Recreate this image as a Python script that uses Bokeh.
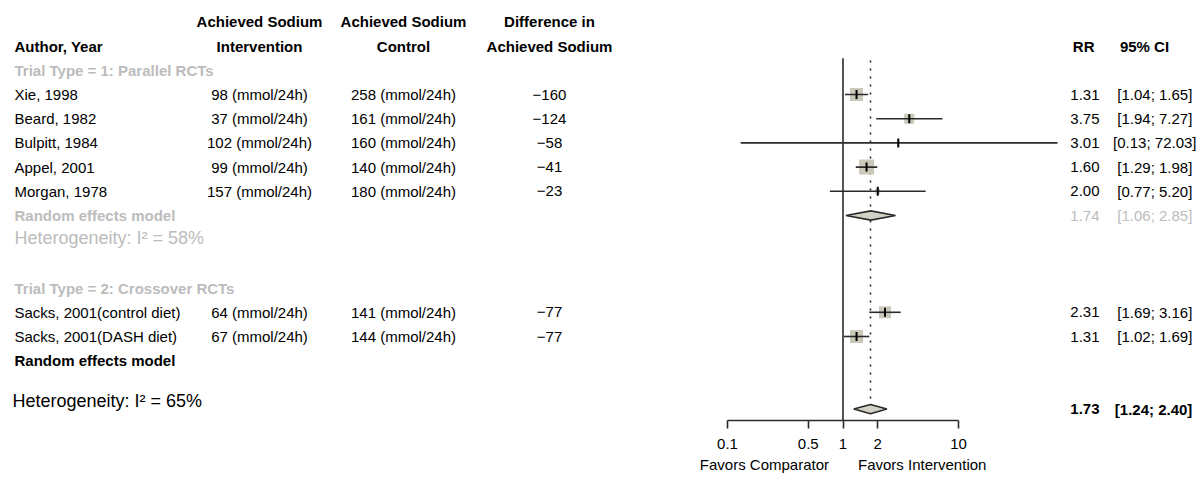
import math
from bokeh.plotting import figure
from bokeh.models import Range1d, FixedTicker, LogAxis, LogScale
from bokeh.core.properties import value
from bokeh.embed import file_html
from bokeh.resources import INLINE

# ---------------- data ----------------
studies = ["Xie, 1998", "Beard, 1982", "Bulpitt, 1984", "Appel, 2001", "Morgan, 1978",
           "Sacks, 2001(control diet)", "Sacks, 2001(DASH diet)"]
sodium_intervention = [98, 37, 102, 99, 157, 64, 67]
sodium_control = [258, 161, 160, 140, 180, 141, 144]
sodium_difference = [-160, -124, -58, -41, -23, -77, -77]
rr = [1.31, 3.75, 3.01, 1.60, 2.00, 2.31, 1.31]
ci_low = [1.04, 1.94, 0.13, 1.29, 0.77, 1.69, 1.02]
ci_high = [1.65, 7.27, 72.03, 1.98, 5.20, 3.16, 1.69]
weights = [20.2, 12.0, 0.5, 26.9, 3.0, 17.2, 20.2]

subgroup_labels = ["Trial Type = 1: Parallel RCTs", "Trial Type = 2: Crossover RCTs"]
sub1_rr, sub1_low, sub1_high = 1.74, 1.06, 2.85
sub1_i2 = 58
overall_rr, overall_low, overall_high = 1.73, 1.24, 2.40
overall_i2 = 65

tick_values = [0.1, 0.5, 1, 2, 10]
tick_labels = ["0.1", "0.5", "1", "2", "10"]
favors_labels = ["Favors Comparator", "Favors Intervention"]

# ---------------- layout ----------------
FONT = "Liberation Sans"
BLACK = "#000000"
GRAY = "#bcbcbc"
SQUARE = "#c9c8b9"
DIAMOND = "#d2d1c4"
LINE = "#2b2b2b"
FS = "15px"

W, H = 1198, 476
ROW0_Y = 94.0      # px of first study row
ROW_H = 24.2
PX_PER_DEC = 115.5
ONE_X = 842.5      # px of RR = 1
study_rows = [0, 1, 2, 3, 4, 9, 10]
AXIS_ROW = (420 - ROW0_Y) / ROW_H
FAV_ROW = (464 - ROW0_Y) / ROW_H


def px_to_rr(px):
    return 10 ** ((px - ONE_X) / PX_PER_DEC)


p = figure(width=W, height=H, output_backend="svg", toolbar_location=None,
           min_border=0, outline_line_color=None,
           x_range=Range1d(0, W),
           y_range=Range1d(start=(H - ROW0_Y) / ROW_H, end=-ROW0_Y / ROW_H),
           x_axis_location=None, y_axis_location=None)
p.extra_x_ranges = {"rr": Range1d(px_to_rr(0), px_to_rr(W))}
p.extra_x_scales = {"rr": LogScale()}
p.grid.visible = False
p.background_fill_color = "white"
p.border_fill_color = "white"


def txt(xs, ys, texts, align="left", color=BLACK, bold=False, size=FS, rng="default"):
    p.text(x=xs, y=ys, text=texts, text_align=align, text_baseline="middle",
           text_color=color, text_font=value(FONT), text_font_size=size,
           text_font_style="bold" if bold else "normal", x_range_name=rng)


# ---------- left table ----------
X_AUTH, X_INT, X_CTL, X_DIF = 14, 259, 403, 549
n = len(studies)
txt([X_INT, X_CTL, X_DIF], [-3, -3, -3],
    ["Achieved Sodium", "Achieved Sodium", "Difference in"], align="center", bold=True)
txt([X_AUTH], [-2], ["Author, Year"], bold=True)
txt([X_INT, X_CTL, X_DIF], [-2, -2, -2],
    ["Intervention", "Control", "Achieved Sodium"], align="center", bold=True)
txt([X_AUTH], [-1], [subgroup_labels[0]], color=GRAY, bold=True)
txt([X_AUTH], [8], [subgroup_labels[1]], color=GRAY, bold=True)

txt([X_AUTH] * n, study_rows, studies)
txt([X_INT] * n, study_rows, [f"{v} (mmol/24h)" for v in sodium_intervention], align="center")
txt([X_CTL] * n, study_rows, [f"{v} (mmol/24h)" for v in sodium_control], align="center")
txt([X_DIF] * n, study_rows, [f"\u2212{abs(v)}" for v in sodium_difference], align="center")

txt([X_AUTH], [5], ["Random effects model"], color=GRAY, bold=True)
txt([X_AUTH], [5.95], [f"Heterogeneity: I\u00b2 = {sub1_i2}%"], color=GRAY, size="18px")
txt([X_AUTH], [11], ["Random effects model"], bold=True)
txt([12], [12.68], [f"Heterogeneity: I\u00b2 = {overall_i2}%"], size="18px")

# ---------- forest panel ----------
ax = LogAxis(x_range_name="rr", fixed_location=AXIS_ROW)
ax.ticker = FixedTicker(ticks=tick_values)
ax.major_label_overrides = {v: l for v, l in zip(tick_values, tick_labels)}
ax.bounds = (tick_values[0], tick_values[-1])
ax.axis_line_color = LINE
ax.axis_line_width = 1.6
ax.major_tick_line_color = LINE
ax.major_tick_line_width = 1.6
ax.major_tick_out = 8
ax.major_tick_in = 0
ax.minor_tick_line_color = None
ax.major_label_text_font = FONT
ax.major_label_text_font_size = FS
ax.major_label_text_color = BLACK
ax.major_label_standoff = 10
p.add_layout(ax, "below")

# reference lines
p.segment(x0=[1], x1=[1], y0=[-1.5], y1=[AXIS_ROW], line_color=LINE, line_width=1.6,
          x_range_name="rr")
p.segment(x0=[overall_rr], x1=[overall_rr], y0=[-1.4], y1=[12.7],
          line_color=LINE, line_width=1.6, line_dash="2 6", x_range_name="rr")

# study squares and CIs
sizes = [2.9 * math.sqrt(w) for w in weights]
p.scatter(x=rr, y=study_rows, marker="square", size=sizes,
          fill_color=SQUARE, line_color=None, x_range_name="rr")
p.segment(x0=ci_low, x1=ci_high, y0=study_rows, y1=study_rows,
          line_color=LINE, line_width=1.6, x_range_name="rr")
p.rect(x=rr, y=study_rows, width=2, height=9, width_units="screen",
       height_units="screen", fill_color=BLACK, line_color=None, x_range_name="rr")

# diamonds
HD = 0.19
pooled_rows = [5, 13]
pooled_est = [sub1_rr, overall_rr]
pooled_low = [sub1_low, overall_low]
pooled_high = [sub1_high, overall_high]
p.patches(xs=[[l, e, h, e] for l, e, h in zip(pooled_low, pooled_est, pooled_high)],
          ys=[[r, r - HD, r, r + HD] for r in pooled_rows],
          fill_color=DIAMOND, line_color=LINE, line_width=1.6, x_range_name="rr")

# favors labels, either side of RR = 1
p.text(x=[1, 1], y=[FAV_ROW, FAV_ROW], text=favors_labels, x_offset=[-14, 15],
       text_align=["right", "left"], text_baseline="middle", text_color=BLACK,
       text_font=value(FONT), text_font_size=FS, x_range_name="rr")

# ---------- right table ----------
X_RR, X_CI, X_CIH = 1099, 1196, 1144
txt([X_RR - 5], [-2], ["RR"], align="right", bold=True)
txt([X_CIH], [-2], ["95% CI"], align="center", bold=True)


def ci_str(lo, hi):
    return f"[{lo:4.2f}; {hi:5.2f}]"


txt([X_RR] * n, study_rows, [f"{v:.2f}" for v in rr], align="right")
txt([X_CI] * n, study_rows, [ci_str(lo, hi) for lo, hi in zip(ci_low, ci_high)], align="right")
txt([X_RR], [5], [f"{sub1_rr:.2f}"], align="right", color=GRAY)
txt([X_CI], [5], [ci_str(sub1_low, sub1_high)], align="right", color=GRAY)
txt([X_RR], [13], [f"{overall_rr:.2f}"], align="right", bold=True)
txt([X_CI], [13], [ci_str(overall_low, overall_high)], align="right", bold=True)

open("out.html", "w").write(file_html(p, INLINE))
